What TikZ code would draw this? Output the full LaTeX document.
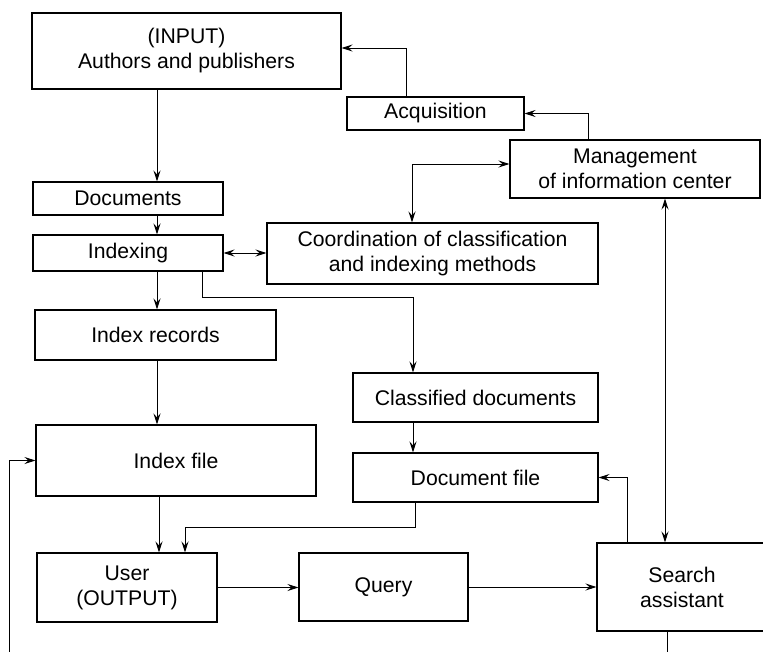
\documentclass[tikz,border=0pt]{standalone}
\usepackage{fontspec}
\setmainfont{Liberation Sans}
\usetikzlibrary{arrows.meta,calc}
\begin{document}
\begin{tikzpicture}[x=1pt,y=-1pt,
  box/.style={draw,line width=1.1pt,inner sep=0pt,align=center,font=\fontsize{21.2}{25}\selectfont},
  arr/.style={line width=0.9pt,-{Stealth[length=11pt,width=7pt,inset=4pt]}},
  darr/.style={line width=0.9pt,{Stealth[length=11pt,width=7pt,inset=4pt]}-{Stealth[length=11pt,width=7pt,inset=4pt]}}]
\useasboundingbox (0,0) rectangle (763,651);
\clip (0,0) rectangle (763,651);
\node[box,minimum width=309pt,minimum height=76pt] (inp) at (186.5,51) {(INPUT)\\Authors and publishers};
\node[box,minimum width=177pt,minimum height=33pt] (acq) at (435.5,113.5) {Acquisition};
\node[box,minimum width=250pt,minimum height=58pt] (mgmt) at (635,169) {Management\\of information center};
\node[box,minimum width=331pt,minimum height=61pt] (coord) at (432.5,253.5) {Coordination of classification\\and indexing methods};
\node[box,minimum width=190pt,minimum height=33pt] (docs) at (128,198.5) {Documents};
\node[box,minimum width=190pt,minimum height=36pt] (idx) at (128,253) {Indexing};
\node[box,minimum width=241pt,minimum height=50pt] (irec) at (155.5,335) {Index records};
\node[box,minimum width=245pt,minimum height=49pt] (cdoc) at (475.5,397.5) {Classified documents};
\node[box,minimum width=245pt,minimum height=49pt] (dfile) at (475.5,477.5) {Document file};
\node[box,minimum width=280pt,minimum height=71pt] (ifile) at (176,460.5) {Index file};
\node[box,minimum width=180pt,minimum height=69pt] (user) at (127,587.5) {User\\(OUTPUT)};
\node[box,minimum width=169pt,minimum height=68pt] (query) at (383.5,587) {Query};
\node[box,minimum width=193pt,minimum height=88pt] (search) at (693.5,587) {Search\hspace*{23pt}\\assistant\hspace*{23pt}};
\coordinate (xa) at (157,0);
\coordinate (xb) at (159,0);
\coordinate (xc) at (202,297);
\coordinate (xd) at (413,0);
\coordinate (xe) at (415,527);
\coordinate (xf) at (185,0);
\coordinate (xg) at (627,0);
\coordinate (xh) at (665,0);
\coordinate (xi) at (588,0);
\coordinate (xj) at (406,48);
\coordinate (xk) at (412,164);
\coordinate (xl) at (667,672);
\coordinate (xm) at (9,0);
\draw[arr] (inp.south -| xa) -- (docs.north -| xa);
\draw[arr] (docs.south -| xa) -- (idx.north -| xa);
\draw[arr] (idx.south -| xa) -- (irec.north -| xa);
\draw[arr] (irec.south -| xa) -- (ifile.north -| xa);
\draw[arr] (ifile.south -| xb) -- (user.north -| xb);
\draw[darr] (idx.east) -- (idx.east -| coord.west);
\draw[arr] (idx.south -| xc) -- (xc) -| (cdoc.north -| xd);
\draw[arr] (cdoc.south -| xd) -- (dfile.north -| xd);
\draw[arr] (dfile.south -| xe) -- (xe) -| (user.north -| xf);
\draw[arr] (user.east) -- (user.east -| query.west);
\draw[arr] (query.east) -- (query.east -| search.west);
\draw[arr] (search.north -| xg) |- (dfile.east);
\draw[darr] (mgmt.south -| xh) -- (search.north -| xh);
\draw[arr] (mgmt.north -| xi) |- (acq.east);
\draw[arr] (acq.north -| xj) -- (xj) -- (inp.east |- xj);
\draw[darr] (mgmt.west |- xk) -- (xk) -- (coord.north -| xk);
\draw[arr] (search.south -| xl) -- (xl) -| (ifile.west -| xm) -- (ifile.west);
\end{tikzpicture}
\end{document}
